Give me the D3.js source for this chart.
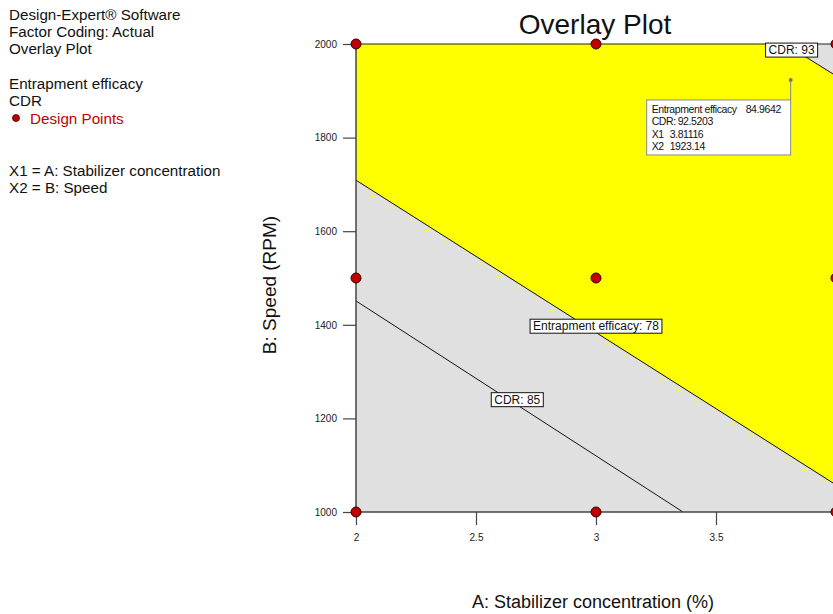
<!DOCTYPE html>
<html>
<head>
<meta charset="utf-8">
<script src="https://cdn.jsdelivr.net/npm/d3@7"></script>
<style>
  html, body { margin: 0; padding: 0; background: #ffffff; }
  svg { display: block; font-family: "Liberation Sans", Arial, sans-serif; }
</style>
</head>
<body>
<svg id="chart" width="833" height="614"></svg>
<script>
// Factor levels and axis ticks (the x = 4 tick sits on the right frame edge)
const xTicks = [2, 2.5, 3, 3.5];
const yTicks = [1000, 1200, 1400, 1600, 1800, 2000];

// Design points (A: stabilizer %, B: speed RPM)
const designA = [2, 3, 4];
const designB = [1000, 1500, 2000];

// Contour lines (end points in factor units)
const eeLevel = 78;
const eeLine = [[2, 1709], [4, 1058]];
const cdr85Line = [[2, 1451], [3.3625, 1000]];
const cdr93Line = [[3.7875, 2000], [4, 1932]];

// Contour label anchors
const contourLabels = [
  { text: "Entrapment efficacy: " + eeLevel, a: 3.0, b: 1397 },
  { text: "CDR: 85", a: 2.672, b: 1240 },
  { text: "CDR: 93", a: 3.815, b: 1987 }
];

// Flag point
const flagA = 3.81116, flagB = 1923.14;
const flagRows = [
  ["Entrapment efficacy", "84.9642"],
  ["CDR:", "92.5203"],
  ["X1", "3.81116"],
  ["X2", "1923.14"]
];

const svg = d3.select("#chart");
const x = d3.scaleLinear().domain([2, 4]).range([356, 836]);
const y = d3.scaleLinear().domain([1000, 2000]).range([512, 44]);

svg.append("defs").append("clipPath").attr("id", "plotClip")
  .append("rect").attr("x", x(2)).attr("y", y(2000))
  .attr("width", x(4) - x(2)).attr("height", y(1000) - y(2000));

const plot = svg.append("g").attr("clip-path", "url(#plotClip)");

// Background (outside the overlay window)
plot.append("rect").attr("x", x(2)).attr("y", y(2000))
  .attr("width", x(4) - x(2)).attr("height", y(1000) - y(2000))
  .attr("fill", "#e0e0e0");

// Feasible window: above EE = 78 and below CDR = 93
const windowPoly = [eeLine[0], [2, 2000], cdr93Line[0], cdr93Line[1], eeLine[1]];
plot.append("path")
  .attr("d", d3.line().x(d => x(d[0])).y(d => y(d[1]))(windowPoly) + "Z")
  .attr("fill", "#ffff00");

// Grid-cell fringe of the shaded window just below the EE boundary
const eeAt = a => eeLine[0][1] + (eeLine[1][1] - eeLine[0][1]) * (a - eeLine[0][0]) / (eeLine[1][0] - eeLine[0][0]);
const fringe = d3.range(2.08, 4, 0.075);
plot.append("g").selectAll("path").data(fringe).join("path")
  .attr("d", a => {
    const px = x(a), py = y(eeAt(a));
    return `M${px - 6},${py + 4}H${px}V${py + 1}`;
  })
  .attr("fill", "none").attr("stroke", "#f4f060").attr("stroke-width", 1);

// Contour lines
[eeLine, cdr85Line, cdr93Line].forEach(l => {
  plot.append("line")
    .attr("x1", x(l[0][0])).attr("y1", y(l[0][1]))
    .attr("x2", x(l[1][0])).attr("y2", y(l[1][1]))
    .attr("stroke", "#111").attr("stroke-width", 1);
});

// Frame
svg.append("line").attr("x1", x(2)).attr("x2", x(4)).attr("y1", y(2000)).attr("y2", y(2000))
  .attr("stroke", "#222").attr("stroke-width", 1.2);
svg.append("line").attr("x1", x(4)).attr("x2", x(4)).attr("y1", y(2000)).attr("y2", y(1000))
  .attr("stroke", "#222").attr("stroke-width", 1.2);

// Axes
const xAxis = d3.axisBottom(x).tickValues(xTicks).tickSize(13).tickPadding(9)
  .tickFormat(d3.format("~g"));
const gx = svg.append("g").attr("transform", `translate(0,${y(1000)})`).call(xAxis);
const yAxis = d3.axisLeft(y).tickValues(yTicks).tickSize(13).tickPadding(6)
  .tickFormat(d3.format("d"));
const gy = svg.append("g").attr("transform", `translate(${x(2)},0)`).call(yAxis);
[gx, gy].forEach(g => {
  g.select(".domain").attr("stroke", "#444").attr("stroke-width", 1.5);
  g.selectAll(".tick line").attr("stroke", "#444").attr("stroke-width", 1.2);
  g.selectAll(".tick text").attr("fill", "#222").style("font-size", "10px")
    .style("font-family", "'Liberation Sans', Arial, sans-serif");
});
gx.select(".domain").attr("d", `M${x(2)},0H${x(4)}`);
gy.select(".domain").attr("d", `M0,${y(2000)}V${y(1000)}`);

// Contour labels
contourLabels.forEach(c => {
  const g = svg.append("g");
  const t = g.append("text").attr("x", x(c.a)).attr("y", y(c.b) + 4)
    .attr("text-anchor", "middle").style("font-size", "12px").attr("fill", "#111")
    .text(c.text);
  const w = t.node().getComputedTextLength();
  g.insert("rect", "text").attr("x", x(c.a) - w / 2 - 3).attr("y", y(c.b) - 7)
    .attr("width", w + 6).attr("height", 14)
    .attr("fill", "#fff").attr("stroke", "#111").attr("stroke-width", 1);
});

// Design points
const pts = [];
designA.forEach(a => designB.forEach(b => pts.push([a, b])));
svg.append("g").selectAll("circle").data(pts).join("circle")
  .attr("cx", d => x(d[0])).attr("cy", d => y(d[1])).attr("r", 5)
  .attr("fill", "#c00000").attr("stroke", "#3a0000").attr("stroke-width", 1);

// Flag
const fx = x(flagA), fy = y(flagB);
const boxW = 144, boxH = 55, boxTop = fy + 20;
svg.append("line").attr("x1", fx).attr("x2", fx).attr("y1", fy).attr("y2", boxTop)
  .attr("stroke", "#888").attr("stroke-width", 1);
svg.append("circle").attr("cx", fx).attr("cy", fy).attr("r", 2).attr("fill", "#777");
svg.append("rect").attr("x", fx - boxW).attr("y", boxTop).attr("width", boxW).attr("height", boxH)
  .attr("fill", "#fff").attr("stroke", "#888").attr("stroke-width", 1);
const valX = [fx - 45, fx - 113, fx - 121, fx - 121];
flagRows.forEach((r, i) => {
  const ty = boxTop + 13 + i * 12.5;
  svg.append("text").attr("x", fx - boxW + 5).attr("y", ty).style("font-size", "10.5px")
    .style("letter-spacing", "-0.4px").attr("fill", "#111").text(r[0]);
  svg.append("text").attr("x", valX[i]).attr("y", ty).style("font-size", "10.5px")
    .style("letter-spacing", "-0.4px").attr("fill", "#111").text(r[1]);
});

// Title and axis titles
svg.append("text").attr("x", 595).attr("y", 34).attr("text-anchor", "middle")
  .style("font-size", "28px").attr("fill", "#111").text("Overlay Plot");
svg.append("text").attr("transform", "translate(276,285) rotate(-90)").attr("text-anchor", "middle")
  .style("font-size", "19px").attr("fill", "#111").text("B: Speed (RPM)");
svg.append("text").attr("x", 593).attr("y", 608).attr("text-anchor", "middle")
  .style("font-size", "18px").attr("fill", "#111").text("A: Stabilizer concentration (%)");

// Side legend
const info = [
  ["Design-Expert® Software", 20, "#111"],
  ["Factor Coding: Actual", 37, "#111"],
  ["Overlay Plot", 54, "#111"],
  ["Entrapment efficacy", 89, "#111"],
  ["CDR", 106, "#111"],
  ["Design Points", 124, "#c00000"],
  ["X1 = A: Stabilizer concentration", 176, "#111"],
  ["X2 = B: Speed", 193, "#111"]
];
info.forEach(d => {
  svg.append("text").attr("x", d[0] === "Design Points" ? 30 : 9).attr("y", d[1])
    .style("font-size", "15.2px").attr("fill", d[2]).text(d[0]);
});
svg.append("circle").attr("cx", 16).attr("cy", 118).attr("r", 3.5)
  .attr("fill", "#c00000").attr("stroke", "#3a0000").attr("stroke-width", 0.8);
</script>
</body>
</html>
